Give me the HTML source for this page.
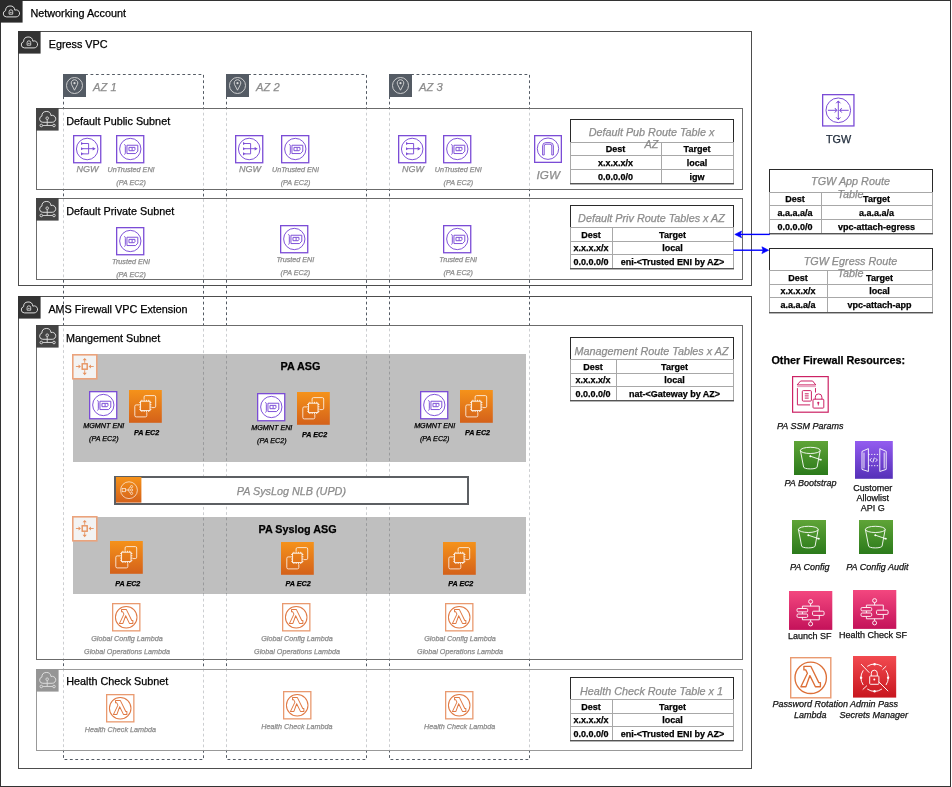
<!DOCTYPE html>
<html><head><meta charset="utf-8"><title>Networking Account</title>
<style>
html,body{margin:0;padding:0;background:#fff;}
body{width:952px;height:787px;position:relative;overflow:hidden;font-family:"Liberation Sans",Arial,Helvetica,sans-serif;}
.b{position:absolute;box-sizing:border-box;}
.t{position:absolute;white-space:nowrap;line-height:1;-webkit-text-stroke:0.25px currentColor;}
svg.b{overflow:visible;}
</style></head><body>
<div id="w" style="position:absolute;left:0;top:0;width:952px;height:787px;will-change:transform;">
<div class="b" style="left:0px;top:0px;width:951px;height:787px;border:1px solid #333;background:#fff;"></div>
<svg class="b" style="left:0px;top:0px;" width="22.6" height="22.6" viewBox="0 0 22.6 22.6"><rect width="22.6" height="22.6" fill="#2a2a2a"/><path transform="translate(3.3,5.8) scale(1.0)" d="M3.2,11.1 A3.2,3.2 0 0 1 2.31,4.83 A4.6,4.6 0 0 1 11.49,4.35 A3.5,3.5 0 1 1 12.8,11.1 Z" fill="none" stroke="#dcdcdc" stroke-width="1.00"/><path d="M9.1,14.2 V11.6 a1.8,1.8 0 0 1 3.6,0 V14.2 Z" fill="none" stroke="#dcdcdc" stroke-width="0.9"/><circle cx="10.9" cy="12.4" r="0.7" fill="#dcdcdc"/></svg>
<div class="t" style="left:30.50px;top:7px;font-size:10.8px;line-height:12px;color:#000;">Networking Account</div>
<div class="b" style="left:18px;top:31px;width:734px;height:255px;border:1px solid #4d4d4d;background:transparent;"></div>
<svg class="b" style="left:18px;top:31px;" width="22.6" height="22.6" viewBox="0 0 22.6 22.6"><rect width="22.6" height="22.6" fill="#333"/><path transform="translate(3.3,5.8) scale(1.0)" d="M3.2,11.1 A3.2,3.2 0 0 1 2.31,4.83 A4.6,4.6 0 0 1 11.49,4.35 A3.5,3.5 0 1 1 12.8,11.1 Z" fill="none" stroke="#dcdcdc" stroke-width="1.00"/><path d="M9.1,14.2 V11.6 a1.8,1.8 0 0 1 3.6,0 V14.2 Z" fill="none" stroke="#dcdcdc" stroke-width="0.9"/><circle cx="10.9" cy="12.4" r="0.7" fill="#dcdcdc"/></svg>
<div class="t" style="left:48.70px;top:38px;font-size:10.8px;line-height:12px;color:#000;">Egress VPC</div>
<div class="b" style="left:18px;top:296px;width:734px;height:473px;border:1px solid #4d4d4d;background:transparent;"></div>
<svg class="b" style="left:18px;top:296px;" width="22.6" height="22.6" viewBox="0 0 22.6 22.6"><rect width="22.6" height="22.6" fill="#333"/><path transform="translate(3.3,5.8) scale(1.0)" d="M3.2,11.1 A3.2,3.2 0 0 1 2.31,4.83 A4.6,4.6 0 0 1 11.49,4.35 A3.5,3.5 0 1 1 12.8,11.1 Z" fill="none" stroke="#dcdcdc" stroke-width="1.00"/><path d="M9.1,14.2 V11.6 a1.8,1.8 0 0 1 3.6,0 V14.2 Z" fill="none" stroke="#dcdcdc" stroke-width="0.9"/><circle cx="10.9" cy="12.4" r="0.7" fill="#dcdcdc"/></svg>
<div class="t" style="left:48.40px;top:303px;font-size:10.8px;line-height:12px;color:#000;">AMS Firewall VPC Extension</div>
<svg class="b" style="left:62px;top:73px;" width="143" height="688" viewBox="0 0 143 688"><rect x="1.5" y="1.5" width="140" height="685" fill="none" stroke="#545B64" stroke-width="1" stroke-dasharray="2.8 2.6"/></svg>
<svg class="b" style="left:225px;top:73px;" width="143" height="688" viewBox="0 0 143 688"><rect x="1.5" y="1.5" width="140" height="685" fill="none" stroke="#545B64" stroke-width="1" stroke-dasharray="2.8 2.6"/></svg>
<svg class="b" style="left:388px;top:73px;" width="143" height="688" viewBox="0 0 143 688"><rect x="1.5" y="1.5" width="140" height="685" fill="none" stroke="#545B64" stroke-width="1" stroke-dasharray="2.8 2.6"/></svg>
<div class="b" style="left:36px;top:108px;width:707px;height:82px;border:1px solid #6b6b6b;background:rgba(255,255,255,0.7);"></div>
<div class="b" style="left:36px;top:198px;width:707px;height:82px;border:1px solid #6b6b6b;background:rgba(255,255,255,0.7);"></div>
<div class="b" style="left:36px;top:325px;width:707px;height:335px;border:1px solid #6b6b6b;background:rgba(255,255,255,0.7);"></div>
<div class="b" style="left:36px;top:669px;width:707px;height:82px;border:1px solid #999;background:rgba(255,255,255,0.7);"></div>
<svg class="b" style="left:36px;top:108px;" width="22.6" height="22.6" viewBox="0 0 22.6 22.6"><rect width="22.6" height="22.6" fill="#444"/><path transform="translate(3.6,3.3) scale(0.99)" d="M3.2,11.1 A3.2,3.2 0 0 1 2.31,4.83 A4.6,4.6 0 0 1 11.49,4.35 A3.5,3.5 0 1 1 12.8,11.1 Z" fill="none" stroke="#dcdcdc" stroke-width="1.01"/><circle cx="11.2" cy="10.2" r="1.3" fill="#444" stroke="#dcdcdc" stroke-width="0.9"/><path d="M11.2,11.5 V17.5 M6.6,17.5 H16.7" stroke="#dcdcdc" stroke-width="0.9"/><circle cx="5.3" cy="17.5" r="1.3" fill="none" stroke="#dcdcdc" stroke-width="0.9"/><circle cx="18" cy="17.5" r="1.3" fill="none" stroke="#dcdcdc" stroke-width="0.9"/></svg>
<svg class="b" style="left:36px;top:198px;" width="22.6" height="22.6" viewBox="0 0 22.6 22.6"><rect width="22.6" height="22.6" fill="#444"/><path transform="translate(3.6,3.3) scale(0.99)" d="M3.2,11.1 A3.2,3.2 0 0 1 2.31,4.83 A4.6,4.6 0 0 1 11.49,4.35 A3.5,3.5 0 1 1 12.8,11.1 Z" fill="none" stroke="#dcdcdc" stroke-width="1.01"/><circle cx="11.2" cy="10.2" r="1.3" fill="#444" stroke="#dcdcdc" stroke-width="0.9"/><path d="M11.2,11.5 V17.5 M6.6,17.5 H16.7" stroke="#dcdcdc" stroke-width="0.9"/><circle cx="5.3" cy="17.5" r="1.3" fill="none" stroke="#dcdcdc" stroke-width="0.9"/><circle cx="18" cy="17.5" r="1.3" fill="none" stroke="#dcdcdc" stroke-width="0.9"/></svg>
<svg class="b" style="left:36px;top:325px;" width="22.6" height="22.6" viewBox="0 0 22.6 22.6"><rect width="22.6" height="22.6" fill="#444"/><path transform="translate(3.6,3.3) scale(0.99)" d="M3.2,11.1 A3.2,3.2 0 0 1 2.31,4.83 A4.6,4.6 0 0 1 11.49,4.35 A3.5,3.5 0 1 1 12.8,11.1 Z" fill="none" stroke="#dcdcdc" stroke-width="1.01"/><circle cx="11.2" cy="10.2" r="1.3" fill="#444" stroke="#dcdcdc" stroke-width="0.9"/><path d="M11.2,11.5 V17.5 M6.6,17.5 H16.7" stroke="#dcdcdc" stroke-width="0.9"/><circle cx="5.3" cy="17.5" r="1.3" fill="none" stroke="#dcdcdc" stroke-width="0.9"/><circle cx="18" cy="17.5" r="1.3" fill="none" stroke="#dcdcdc" stroke-width="0.9"/></svg>
<svg class="b" style="left:36.3px;top:669px;" width="22.6" height="22.6" viewBox="0 0 22.6 22.6"><rect width="22.6" height="22.6" fill="#959595"/><path transform="translate(3.6,3.3) scale(0.99)" d="M3.2,11.1 A3.2,3.2 0 0 1 2.31,4.83 A4.6,4.6 0 0 1 11.49,4.35 A3.5,3.5 0 1 1 12.8,11.1 Z" fill="none" stroke="#dcdcdc" stroke-width="1.01"/><circle cx="11.2" cy="10.2" r="1.3" fill="#959595" stroke="#dcdcdc" stroke-width="0.9"/><path d="M11.2,11.5 V17.5 M6.6,17.5 H16.7" stroke="#dcdcdc" stroke-width="0.9"/><circle cx="5.3" cy="17.5" r="1.3" fill="none" stroke="#dcdcdc" stroke-width="0.9"/><circle cx="18" cy="17.5" r="1.3" fill="none" stroke="#dcdcdc" stroke-width="0.9"/></svg>
<div class="t" style="left:66.30px;top:115px;font-size:10.8px;line-height:12px;color:#000;">Default Public Subnet</div>
<div class="t" style="left:66.30px;top:205px;font-size:10.8px;line-height:12px;color:#000;">Default Private Subnet</div>
<div class="t" style="left:66.00px;top:332px;font-size:10.8px;line-height:12px;color:#000;">Mangement Subnet</div>
<div class="t" style="left:66.30px;top:675px;font-size:10.8px;line-height:12px;color:#000;">Health Check Subnet</div>
<svg class="b" style="left:63px;top:74px;" width="23" height="23" viewBox="0 0 23 23"><rect width="23" height="23" fill="#545B64"/><circle cx="11.5" cy="11.5" r="8" fill="none" stroke="#d8d8d8" stroke-width="0.9"/><path d="M11.5,16.2 L8.6,10.6 a3.3,3.3 0 1 1 5.8,0 z" fill="none" stroke="#d8d8d8" stroke-width="0.9"/><circle cx="11.5" cy="9.2" r="1.1" fill="#d8d8d8"/></svg>
<div class="t" style="left:93.00px;top:81px;font-size:11.2px;line-height:12px;color:#8c8c8c;font-style:italic;">AZ 1</div>
<svg class="b" style="left:226px;top:74px;" width="23" height="23" viewBox="0 0 23 23"><rect width="23" height="23" fill="#545B64"/><circle cx="11.5" cy="11.5" r="8" fill="none" stroke="#d8d8d8" stroke-width="0.9"/><path d="M11.5,16.2 L8.6,10.6 a3.3,3.3 0 1 1 5.8,0 z" fill="none" stroke="#d8d8d8" stroke-width="0.9"/><circle cx="11.5" cy="9.2" r="1.1" fill="#d8d8d8"/></svg>
<div class="t" style="left:256.00px;top:81px;font-size:11.2px;line-height:12px;color:#8c8c8c;font-style:italic;">AZ 2</div>
<svg class="b" style="left:389px;top:74px;" width="23" height="23" viewBox="0 0 23 23"><rect width="23" height="23" fill="#545B64"/><circle cx="11.5" cy="11.5" r="8" fill="none" stroke="#d8d8d8" stroke-width="0.9"/><path d="M11.5,16.2 L8.6,10.6 a3.3,3.3 0 1 1 5.8,0 z" fill="none" stroke="#d8d8d8" stroke-width="0.9"/><circle cx="11.5" cy="9.2" r="1.1" fill="#d8d8d8"/></svg>
<div class="t" style="left:419.00px;top:81px;font-size:11.2px;line-height:12px;color:#8c8c8c;font-style:italic;">AZ 3</div>
<svg class="b" style="left:72.6px;top:134.8px;" width="28.4" height="28.4" viewBox="0 0 28.4 28.4"><rect x="0.65" y="0.65" width="27.10" height="27.10" fill="#fff" stroke="#7B4CD6" stroke-width="1.3"/><g transform="scale(1.0143)" fill="none" stroke="#7B4CD6" stroke-width="0.95"><circle cx="14" cy="13.8" r="10.6"/><path d="M9.6,8.4 h5.8 v10.2 h-5.8 M9.6,13.5 h10.6"/></g><g transform="scale(1.0143)" fill="#7B4CD6"><path d="M7.9,6.9 l2.6,1.5 l-2.6,1.5 z M7.9,12 l2.6,1.5 l-2.6,1.5 z M7.9,17.1 l2.6,1.5 l-2.6,1.5 z M19.4,11.8 l3,1.7 l-3,1.7 z"/></g></svg>
<svg class="b" style="left:116.1px;top:134.8px;" width="28.4" height="28.4" viewBox="0 0 28.4 28.4"><rect x="0.65" y="0.65" width="27.10" height="27.10" fill="#fff" stroke="#7B4CD6" stroke-width="1.3"/><g transform="scale(1.0143)" fill="none" stroke="#7B4CD6" stroke-width="0.95"><circle cx="14.1" cy="13.8" r="10.5"/><path d="M8.2,9.1 q1.2,0.6 1.0,2.2 v6.2 q0,1.2 -0.8,1.8"/><path d="M10.8,10.1 h10.7 v5.8 l-2.2,2.4 h-8.5 z"/><path d="M12.8,12.2 h3.1 v3.3 h-3.1 z M15.9,12.2 h2.8 v2.3 l-0.8,1 h-2"/></g></svg>
<div class="t" style="left:67.60px;top:164px;font-size:9px;line-height:10px;color:#8c8c8c;font-style:italic;width:40px;text-align:center;">NGW</div>
<div class="t" style="left:96.10px;top:165px;font-size:7.2px;line-height:9px;color:#8c8c8c;font-style:italic;width:70px;text-align:center;">UnTrusted ENI</div>
<div class="t" style="left:96.10px;top:178px;font-size:7.2px;line-height:9px;color:#8c8c8c;font-style:italic;width:70px;text-align:center;">(PA EC2)</div>
<svg class="b" style="left:235.1px;top:134.8px;" width="28.4" height="28.4" viewBox="0 0 28.4 28.4"><rect x="0.65" y="0.65" width="27.10" height="27.10" fill="#fff" stroke="#7B4CD6" stroke-width="1.3"/><g transform="scale(1.0143)" fill="none" stroke="#7B4CD6" stroke-width="0.95"><circle cx="14" cy="13.8" r="10.6"/><path d="M9.6,8.4 h5.8 v10.2 h-5.8 M9.6,13.5 h10.6"/></g><g transform="scale(1.0143)" fill="#7B4CD6"><path d="M7.9,6.9 l2.6,1.5 l-2.6,1.5 z M7.9,12 l2.6,1.5 l-2.6,1.5 z M7.9,17.1 l2.6,1.5 l-2.6,1.5 z M19.4,11.8 l3,1.7 l-3,1.7 z"/></g></svg>
<svg class="b" style="left:280.5px;top:134.8px;" width="28.4" height="28.4" viewBox="0 0 28.4 28.4"><rect x="0.65" y="0.65" width="27.10" height="27.10" fill="#fff" stroke="#7B4CD6" stroke-width="1.3"/><g transform="scale(1.0143)" fill="none" stroke="#7B4CD6" stroke-width="0.95"><circle cx="14.1" cy="13.8" r="10.5"/><path d="M8.2,9.1 q1.2,0.6 1.0,2.2 v6.2 q0,1.2 -0.8,1.8"/><path d="M10.8,10.1 h10.7 v5.8 l-2.2,2.4 h-8.5 z"/><path d="M12.8,12.2 h3.1 v3.3 h-3.1 z M15.9,12.2 h2.8 v2.3 l-0.8,1 h-2"/></g></svg>
<div class="t" style="left:230.10px;top:164px;font-size:9px;line-height:10px;color:#8c8c8c;font-style:italic;width:40px;text-align:center;">NGW</div>
<div class="t" style="left:260.50px;top:165px;font-size:7.2px;line-height:9px;color:#8c8c8c;font-style:italic;width:70px;text-align:center;">UnTrusted ENI</div>
<div class="t" style="left:260.50px;top:178px;font-size:7.2px;line-height:9px;color:#8c8c8c;font-style:italic;width:70px;text-align:center;">(PA EC2)</div>
<svg class="b" style="left:398.1px;top:134.8px;" width="28.4" height="28.4" viewBox="0 0 28.4 28.4"><rect x="0.65" y="0.65" width="27.10" height="27.10" fill="#fff" stroke="#7B4CD6" stroke-width="1.3"/><g transform="scale(1.0143)" fill="none" stroke="#7B4CD6" stroke-width="0.95"><circle cx="14" cy="13.8" r="10.6"/><path d="M9.6,8.4 h5.8 v10.2 h-5.8 M9.6,13.5 h10.6"/></g><g transform="scale(1.0143)" fill="#7B4CD6"><path d="M7.9,6.9 l2.6,1.5 l-2.6,1.5 z M7.9,12 l2.6,1.5 l-2.6,1.5 z M7.9,17.1 l2.6,1.5 l-2.6,1.5 z M19.4,11.8 l3,1.7 l-3,1.7 z"/></g></svg>
<svg class="b" style="left:443.3px;top:134.8px;" width="28.4" height="28.4" viewBox="0 0 28.4 28.4"><rect x="0.65" y="0.65" width="27.10" height="27.10" fill="#fff" stroke="#7B4CD6" stroke-width="1.3"/><g transform="scale(1.0143)" fill="none" stroke="#7B4CD6" stroke-width="0.95"><circle cx="14.1" cy="13.8" r="10.5"/><path d="M8.2,9.1 q1.2,0.6 1.0,2.2 v6.2 q0,1.2 -0.8,1.8"/><path d="M10.8,10.1 h10.7 v5.8 l-2.2,2.4 h-8.5 z"/><path d="M12.8,12.2 h3.1 v3.3 h-3.1 z M15.9,12.2 h2.8 v2.3 l-0.8,1 h-2"/></g></svg>
<div class="t" style="left:393.10px;top:164px;font-size:9px;line-height:10px;color:#8c8c8c;font-style:italic;width:40px;text-align:center;">NGW</div>
<div class="t" style="left:423.30px;top:165px;font-size:7.2px;line-height:9px;color:#8c8c8c;font-style:italic;width:70px;text-align:center;">UnTrusted ENI</div>
<div class="t" style="left:423.30px;top:178px;font-size:7.2px;line-height:9px;color:#8c8c8c;font-style:italic;width:70px;text-align:center;">(PA EC2)</div>
<svg class="b" style="left:534.2px;top:134.8px;" width="28" height="28" viewBox="0 0 28 28"><rect x="0.65" y="0.65" width="26.70" height="26.70" fill="#fff" stroke="#7B4CD6" stroke-width="1.3"/><g fill="none" stroke="#7B4CD6" stroke-width="0.95"><circle cx="14" cy="13.7" r="10.7"/><path d="M8.6,20 v-9 a3.4,3.4 0 0 1 3.4,-3.4 h4 a3.4,3.4 0 0 1 3.4,3.4 v9 h-1.6 v-9 a1.8,1.8 0 0 0 -1.8,-1.8 h-4 a1.8,1.8 0 0 0 -1.8,1.8 v9 z"/></g></svg>
<div class="t" style="left:528.30px;top:168px;font-size:11.7px;line-height:13px;color:#8c8c8c;font-style:italic;width:40px;text-align:center;">IGW</div>
<svg class="b" style="left:116.0px;top:227.1px;" width="28.4" height="28.4" viewBox="0 0 28.4 28.4"><rect x="0.65" y="0.65" width="27.10" height="27.10" fill="#fff" stroke="#7B4CD6" stroke-width="1.3"/><g transform="scale(1.0143)" fill="none" stroke="#7B4CD6" stroke-width="0.95"><circle cx="14.1" cy="13.8" r="10.5"/><path d="M8.2,9.1 q1.2,0.6 1.0,2.2 v6.2 q0,1.2 -0.8,1.8"/><path d="M10.8,10.1 h10.7 v5.8 l-2.2,2.4 h-8.5 z"/><path d="M12.8,12.2 h3.1 v3.3 h-3.1 z M15.9,12.2 h2.8 v2.3 l-0.8,1 h-2"/></g></svg>
<div class="t" style="left:96.00px;top:257px;font-size:7.2px;line-height:9px;color:#8c8c8c;font-style:italic;width:70px;text-align:center;">Trusted ENI</div>
<div class="t" style="left:96.00px;top:270px;font-size:7.2px;line-height:9px;color:#8c8c8c;font-style:italic;width:70px;text-align:center;">(PA EC2)</div>
<svg class="b" style="left:280.3px;top:225.2px;" width="28.4" height="28.4" viewBox="0 0 28.4 28.4"><rect x="0.65" y="0.65" width="27.10" height="27.10" fill="#fff" stroke="#7B4CD6" stroke-width="1.3"/><g transform="scale(1.0143)" fill="none" stroke="#7B4CD6" stroke-width="0.95"><circle cx="14.1" cy="13.8" r="10.5"/><path d="M8.2,9.1 q1.2,0.6 1.0,2.2 v6.2 q0,1.2 -0.8,1.8"/><path d="M10.8,10.1 h10.7 v5.8 l-2.2,2.4 h-8.5 z"/><path d="M12.8,12.2 h3.1 v3.3 h-3.1 z M15.9,12.2 h2.8 v2.3 l-0.8,1 h-2"/></g></svg>
<div class="t" style="left:260.30px;top:255px;font-size:7.2px;line-height:9px;color:#8c8c8c;font-style:italic;width:70px;text-align:center;">Trusted ENI</div>
<div class="t" style="left:260.30px;top:268px;font-size:7.2px;line-height:9px;color:#8c8c8c;font-style:italic;width:70px;text-align:center;">(PA EC2)</div>
<svg class="b" style="left:443.2px;top:225.2px;" width="28.4" height="28.4" viewBox="0 0 28.4 28.4"><rect x="0.65" y="0.65" width="27.10" height="27.10" fill="#fff" stroke="#7B4CD6" stroke-width="1.3"/><g transform="scale(1.0143)" fill="none" stroke="#7B4CD6" stroke-width="0.95"><circle cx="14.1" cy="13.8" r="10.5"/><path d="M8.2,9.1 q1.2,0.6 1.0,2.2 v6.2 q0,1.2 -0.8,1.8"/><path d="M10.8,10.1 h10.7 v5.8 l-2.2,2.4 h-8.5 z"/><path d="M12.8,12.2 h3.1 v3.3 h-3.1 z M15.9,12.2 h2.8 v2.3 l-0.8,1 h-2"/></g></svg>
<div class="t" style="left:423.20px;top:255px;font-size:7.2px;line-height:9px;color:#8c8c8c;font-style:italic;width:70px;text-align:center;">Trusted ENI</div>
<div class="t" style="left:423.20px;top:268px;font-size:7.2px;line-height:9px;color:#8c8c8c;font-style:italic;width:70px;text-align:center;">(PA EC2)</div>
<div class="b" style="left:73px;top:354px;width:453px;height:108px;background:rgba(0,0,0,0.25);"></div>
<svg class="b" style="left:72.3px;top:353.9px;" width="25.6" height="25.6" viewBox="0 0 25.6 25.6"><rect x="0.8" y="0.8" width="24.00" height="24.00" fill="#f3f3f3" stroke="#EBA37C" stroke-width="1.6"/><rect x="10.2" y="9.8" width="5.0" height="5.4" fill="none" stroke="#E6925F" stroke-width="1.4"/><g stroke="#E6925F" stroke-width="0.9" fill="none"><path d="M12.7,8.8 V5.6 M12.7,16.2 V19.4 M3.9,12.5 H7.2 M21.7,12.5 H18.3"/></g><g fill="#E6925F"><path d="M10.6,6.3 L12.7,3.9 L14.8,6.3 Z M10.6,18.8 L12.7,21.2 L14.8,18.8 Z M6.6,10.4 L8.9,12.5 L6.6,14.6 Z M18.9,10.4 L16.6,12.5 L18.9,14.6 Z"/></g></svg>
<div class="t" style="left:260.40px;top:360px;font-size:10.8px;line-height:12px;color:#000;font-weight:bold;width:80px;text-align:center;">PA ASG</div>
<svg class="b" style="left:89.3px;top:391.3px;" width="28.4" height="28.4" viewBox="0 0 28.4 28.4"><rect x="0.65" y="0.65" width="27.10" height="27.10" fill="#fff" stroke="#7B4CD6" stroke-width="1.3"/><g transform="scale(1.0143)" fill="none" stroke="#7B4CD6" stroke-width="0.95"><circle cx="14.1" cy="13.8" r="10.5"/><path d="M8.2,9.1 q1.2,0.6 1.0,2.2 v6.2 q0,1.2 -0.8,1.8"/><path d="M10.8,10.1 h10.7 v5.8 l-2.2,2.4 h-8.5 z"/><path d="M12.8,12.2 h3.1 v3.3 h-3.1 z M15.9,12.2 h2.8 v2.3 l-0.8,1 h-2"/></g></svg>
<svg class="b" style="left:129.1px;top:389.9px;" width="32.8" height="32.8" viewBox="0 0 32.8 32.8"><defs><linearGradient id="g1291_3899" gradientUnits="userSpaceOnUse" x1="0" y1="32.8" x2="0" y2="0"><stop offset="0" stop-color="#D4611A"/><stop offset="1" stop-color="#F5921A"/></linearGradient></defs><rect width="32.8" height="32.8" fill="url(#g1291_3899)"/><g fill="none" stroke="#fff" stroke-width="0.85" opacity="0.9"><rect x="15.1" y="5.6" width="11.6" height="12" rx="1.4"/><rect x="5.8" y="14.9" width="12" height="12" rx="1.4"/></g><rect x="10.0" y="9.6" width="12.600000000000001" height="12.600000000000001" fill="url(#g1291_3899)"/><g fill="none" stroke="#fff" stroke-width="0.9" opacity="0.95"><rect x="11.6" y="11.2" width="9.4" height="9.4"/><path d="M12.90,9.80 v1.4 M12.90,20.60 v1.4 M10.20,12.50 h1.4 M21.00,12.50 h1.4 M15.17,9.80 v1.4 M15.17,20.60 v1.4 M10.20,14.77 h1.4 M21.00,14.77 h1.4 M17.44,9.80 v1.4 M17.44,20.60 v1.4 M10.20,17.04 h1.4 M21.00,17.04 h1.4 M19.71,9.80 v1.4 M19.71,20.60 v1.4 M10.20,19.31 h1.4 M21.00,19.31 h1.4"/></g></svg>
<div class="t" style="left:68.80px;top:421px;font-size:7.2px;line-height:9px;color:#000;font-style:italic;width:70px;text-align:center;">MGMNT ENI</div>
<div class="t" style="left:68.80px;top:434px;font-size:7.2px;line-height:9px;color:#000;font-style:italic;width:70px;text-align:center;">(PA EC2)</div>
<div class="t" style="left:121.70px;top:428px;font-size:7.2px;line-height:9px;color:#000;font-style:italic;font-weight:bold;width:50px;text-align:center;">PA EC2</div>
<svg class="b" style="left:257.3px;top:393.2px;" width="28.4" height="28.4" viewBox="0 0 28.4 28.4"><rect x="0.65" y="0.65" width="27.10" height="27.10" fill="#fff" stroke="#7B4CD6" stroke-width="1.3"/><g transform="scale(1.0143)" fill="none" stroke="#7B4CD6" stroke-width="0.95"><circle cx="14.1" cy="13.8" r="10.5"/><path d="M8.2,9.1 q1.2,0.6 1.0,2.2 v6.2 q0,1.2 -0.8,1.8"/><path d="M10.8,10.1 h10.7 v5.8 l-2.2,2.4 h-8.5 z"/><path d="M12.8,12.2 h3.1 v3.3 h-3.1 z M15.9,12.2 h2.8 v2.3 l-0.8,1 h-2"/></g></svg>
<svg class="b" style="left:297.0px;top:391.8px;" width="32.8" height="32.8" viewBox="0 0 32.8 32.8"><defs><linearGradient id="g2970_3918" gradientUnits="userSpaceOnUse" x1="0" y1="32.8" x2="0" y2="0"><stop offset="0" stop-color="#D4611A"/><stop offset="1" stop-color="#F5921A"/></linearGradient></defs><rect width="32.8" height="32.8" fill="url(#g2970_3918)"/><g fill="none" stroke="#fff" stroke-width="0.85" opacity="0.9"><rect x="15.1" y="5.6" width="11.6" height="12" rx="1.4"/><rect x="5.8" y="14.9" width="12" height="12" rx="1.4"/></g><rect x="10.0" y="9.6" width="12.600000000000001" height="12.600000000000001" fill="url(#g2970_3918)"/><g fill="none" stroke="#fff" stroke-width="0.9" opacity="0.95"><rect x="11.6" y="11.2" width="9.4" height="9.4"/><path d="M12.90,9.80 v1.4 M12.90,20.60 v1.4 M10.20,12.50 h1.4 M21.00,12.50 h1.4 M15.17,9.80 v1.4 M15.17,20.60 v1.4 M10.20,14.77 h1.4 M21.00,14.77 h1.4 M17.44,9.80 v1.4 M17.44,20.60 v1.4 M10.20,17.04 h1.4 M21.00,17.04 h1.4 M19.71,9.80 v1.4 M19.71,20.60 v1.4 M10.20,19.31 h1.4 M21.00,19.31 h1.4"/></g></svg>
<div class="t" style="left:236.80px;top:423px;font-size:7.2px;line-height:9px;color:#000;font-style:italic;width:70px;text-align:center;">MGMNT ENI</div>
<div class="t" style="left:236.80px;top:436px;font-size:7.2px;line-height:9px;color:#000;font-style:italic;width:70px;text-align:center;">(PA EC2)</div>
<div class="t" style="left:289.60px;top:430px;font-size:7.2px;line-height:9px;color:#000;font-style:italic;font-weight:bold;width:50px;text-align:center;">PA EC2</div>
<svg class="b" style="left:420.2px;top:391.3px;" width="28.4" height="28.4" viewBox="0 0 28.4 28.4"><rect x="0.65" y="0.65" width="27.10" height="27.10" fill="#fff" stroke="#7B4CD6" stroke-width="1.3"/><g transform="scale(1.0143)" fill="none" stroke="#7B4CD6" stroke-width="0.95"><circle cx="14.1" cy="13.8" r="10.5"/><path d="M8.2,9.1 q1.2,0.6 1.0,2.2 v6.2 q0,1.2 -0.8,1.8"/><path d="M10.8,10.1 h10.7 v5.8 l-2.2,2.4 h-8.5 z"/><path d="M12.8,12.2 h3.1 v3.3 h-3.1 z M15.9,12.2 h2.8 v2.3 l-0.8,1 h-2"/></g></svg>
<svg class="b" style="left:459.9px;top:389.9px;" width="32.8" height="32.8" viewBox="0 0 32.8 32.8"><defs><linearGradient id="g4599_3899" gradientUnits="userSpaceOnUse" x1="0" y1="32.8" x2="0" y2="0"><stop offset="0" stop-color="#D4611A"/><stop offset="1" stop-color="#F5921A"/></linearGradient></defs><rect width="32.8" height="32.8" fill="url(#g4599_3899)"/><g fill="none" stroke="#fff" stroke-width="0.85" opacity="0.9"><rect x="15.1" y="5.6" width="11.6" height="12" rx="1.4"/><rect x="5.8" y="14.9" width="12" height="12" rx="1.4"/></g><rect x="10.0" y="9.6" width="12.600000000000001" height="12.600000000000001" fill="url(#g4599_3899)"/><g fill="none" stroke="#fff" stroke-width="0.9" opacity="0.95"><rect x="11.6" y="11.2" width="9.4" height="9.4"/><path d="M12.90,9.80 v1.4 M12.90,20.60 v1.4 M10.20,12.50 h1.4 M21.00,12.50 h1.4 M15.17,9.80 v1.4 M15.17,20.60 v1.4 M10.20,14.77 h1.4 M21.00,14.77 h1.4 M17.44,9.80 v1.4 M17.44,20.60 v1.4 M10.20,17.04 h1.4 M21.00,17.04 h1.4 M19.71,9.80 v1.4 M19.71,20.60 v1.4 M10.20,19.31 h1.4 M21.00,19.31 h1.4"/></g></svg>
<div class="t" style="left:399.70px;top:421px;font-size:7.2px;line-height:9px;color:#000;font-style:italic;width:70px;text-align:center;">MGMNT ENI</div>
<div class="t" style="left:399.70px;top:434px;font-size:7.2px;line-height:9px;color:#000;font-style:italic;width:70px;text-align:center;">(PA EC2)</div>
<div class="t" style="left:452.50px;top:428px;font-size:7.2px;line-height:9px;color:#000;font-style:italic;font-weight:bold;width:50px;text-align:center;">PA EC2</div>
<div class="b" style="left:114px;top:476px;width:355px;height:29px;border:2px solid #5c5f63;background:#fff;"></div>
<svg class="b" style="left:115.6px;top:477.1px;" width="25.4" height="25.6" viewBox="0 0 25.4 25.6"><defs><linearGradient id="n115_477" x1="0" y1="1" x2="0" y2="0"><stop offset="0" stop-color="#D4611A"/><stop offset="1" stop-color="#F5921A"/></linearGradient></defs><rect width="25.4" height="25.6" fill="url(#n115_477)"/><g fill="none" stroke="#fff" stroke-width="0.75" opacity="0.85"><circle cx="13" cy="13.2" r="8.4"/><rect x="6.1" y="11.4" width="3.3" height="3.3"/><path d="M9.4,13 h2.5 M11.9,13 l2.4,-3.2 M11.9,13 h2.4 M11.9,13 l2.4,3.2"/><circle cx="15.6" cy="9.6" r="1.1"/><circle cx="15.6" cy="13" r="1.1"/><circle cx="15.6" cy="16.4" r="1.1"/></g></svg>
<div class="t" style="left:236.80px;top:485px;font-size:10.8px;line-height:12px;color:#8c8c8c;font-style:italic;">PA SysLog NLB (UPD)</div>
<div class="b" style="left:73px;top:517px;width:453px;height:77px;background:rgba(0,0,0,0.25);"></div>
<svg class="b" style="left:72.3px;top:516.4px;" width="25.6" height="25.6" viewBox="0 0 25.6 25.6"><rect x="0.8" y="0.8" width="24.00" height="24.00" fill="#f3f3f3" stroke="#EBA37C" stroke-width="1.6"/><rect x="10.2" y="9.8" width="5.0" height="5.4" fill="none" stroke="#E6925F" stroke-width="1.4"/><g stroke="#E6925F" stroke-width="0.9" fill="none"><path d="M12.7,8.8 V5.6 M12.7,16.2 V19.4 M3.9,12.5 H7.2 M21.7,12.5 H18.3"/></g><g fill="#E6925F"><path d="M10.6,6.3 L12.7,3.9 L14.8,6.3 Z M10.6,18.8 L12.7,21.2 L14.8,18.8 Z M6.6,10.4 L8.9,12.5 L6.6,14.6 Z M18.9,10.4 L16.6,12.5 L18.9,14.6 Z"/></g></svg>
<div class="t" style="left:237.60px;top:523px;font-size:10.8px;line-height:12px;color:#000;font-weight:bold;width:120px;text-align:center;">PA Syslog ASG</div>
<svg class="b" style="left:110.2px;top:540.8px;" width="32.8" height="32.8" viewBox="0 0 32.8 32.8"><defs><linearGradient id="g1102_5408" gradientUnits="userSpaceOnUse" x1="0" y1="32.8" x2="0" y2="0"><stop offset="0" stop-color="#D4611A"/><stop offset="1" stop-color="#F5921A"/></linearGradient></defs><rect width="32.8" height="32.8" fill="url(#g1102_5408)"/><g fill="none" stroke="#fff" stroke-width="0.85" opacity="0.9"><rect x="15.1" y="5.6" width="11.6" height="12" rx="1.4"/><rect x="5.8" y="14.9" width="12" height="12" rx="1.4"/></g><rect x="10.0" y="9.6" width="12.600000000000001" height="12.600000000000001" fill="url(#g1102_5408)"/><g fill="none" stroke="#fff" stroke-width="0.9" opacity="0.95"><rect x="11.6" y="11.2" width="9.4" height="9.4"/><path d="M12.90,9.80 v1.4 M12.90,20.60 v1.4 M10.20,12.50 h1.4 M21.00,12.50 h1.4 M15.17,9.80 v1.4 M15.17,20.60 v1.4 M10.20,14.77 h1.4 M21.00,14.77 h1.4 M17.44,9.80 v1.4 M17.44,20.60 v1.4 M10.20,17.04 h1.4 M21.00,17.04 h1.4 M19.71,9.80 v1.4 M19.71,20.60 v1.4 M10.20,19.31 h1.4 M21.00,19.31 h1.4"/></g></svg>
<div class="t" style="left:102.80px;top:579px;font-size:7.2px;line-height:9px;color:#000;font-style:italic;font-weight:bold;width:50px;text-align:center;">PA EC2</div>
<svg class="b" style="left:280.5px;top:541.7px;" width="32.8" height="32.8" viewBox="0 0 32.8 32.8"><defs><linearGradient id="g2805_5417" gradientUnits="userSpaceOnUse" x1="0" y1="32.8" x2="0" y2="0"><stop offset="0" stop-color="#D4611A"/><stop offset="1" stop-color="#F5921A"/></linearGradient></defs><rect width="32.8" height="32.8" fill="url(#g2805_5417)"/><g fill="none" stroke="#fff" stroke-width="0.85" opacity="0.9"><rect x="15.1" y="5.6" width="11.6" height="12" rx="1.4"/><rect x="5.8" y="14.9" width="12" height="12" rx="1.4"/></g><rect x="10.0" y="9.6" width="12.600000000000001" height="12.600000000000001" fill="url(#g2805_5417)"/><g fill="none" stroke="#fff" stroke-width="0.9" opacity="0.95"><rect x="11.6" y="11.2" width="9.4" height="9.4"/><path d="M12.90,9.80 v1.4 M12.90,20.60 v1.4 M10.20,12.50 h1.4 M21.00,12.50 h1.4 M15.17,9.80 v1.4 M15.17,20.60 v1.4 M10.20,14.77 h1.4 M21.00,14.77 h1.4 M17.44,9.80 v1.4 M17.44,20.60 v1.4 M10.20,17.04 h1.4 M21.00,17.04 h1.4 M19.71,9.80 v1.4 M19.71,20.60 v1.4 M10.20,19.31 h1.4 M21.00,19.31 h1.4"/></g></svg>
<div class="t" style="left:273.10px;top:579px;font-size:7.2px;line-height:9px;color:#000;font-style:italic;font-weight:bold;width:50px;text-align:center;">PA EC2</div>
<svg class="b" style="left:443.2px;top:541.7px;" width="32.8" height="32.8" viewBox="0 0 32.8 32.8"><defs><linearGradient id="g4432_5417" gradientUnits="userSpaceOnUse" x1="0" y1="32.8" x2="0" y2="0"><stop offset="0" stop-color="#D4611A"/><stop offset="1" stop-color="#F5921A"/></linearGradient></defs><rect width="32.8" height="32.8" fill="url(#g4432_5417)"/><g fill="none" stroke="#fff" stroke-width="0.85" opacity="0.9"><rect x="15.1" y="5.6" width="11.6" height="12" rx="1.4"/><rect x="5.8" y="14.9" width="12" height="12" rx="1.4"/></g><rect x="10.0" y="9.6" width="12.600000000000001" height="12.600000000000001" fill="url(#g4432_5417)"/><g fill="none" stroke="#fff" stroke-width="0.9" opacity="0.95"><rect x="11.6" y="11.2" width="9.4" height="9.4"/><path d="M12.90,9.80 v1.4 M12.90,20.60 v1.4 M10.20,12.50 h1.4 M21.00,12.50 h1.4 M15.17,9.80 v1.4 M15.17,20.60 v1.4 M10.20,14.77 h1.4 M21.00,14.77 h1.4 M17.44,9.80 v1.4 M17.44,20.60 v1.4 M10.20,17.04 h1.4 M21.00,17.04 h1.4 M19.71,9.80 v1.4 M19.71,20.60 v1.4 M10.20,19.31 h1.4 M21.00,19.31 h1.4"/></g></svg>
<div class="t" style="left:435.80px;top:579px;font-size:7.2px;line-height:9px;color:#000;font-style:italic;font-weight:bold;width:50px;text-align:center;">PA EC2</div>
<svg class="b" style="left:112.4px;top:603.4px;" width="28.5" height="28.5" viewBox="0 0 28.5 28.5"><rect x="0.65" y="0.65" width="27.20" height="27.20" fill="#fff" stroke="#E99A70" stroke-width="1.3"/><g transform="scale(0.6867)" fill="none" stroke="#E07A45" stroke-width="1.46" stroke-linejoin="round"><circle cx="20.7" cy="20.8" r="15.7"/><path d="M13.9,9.3 H20.8 L28.8,25.6 H30.4 V29.7 H25.4 L19.9,18.6 L15.9,29.7 H10.9 L17.4,16.2 L15.7,12.9 H13.9 Z"/></g></svg>
<div class="t" style="left:72.00px;top:634px;font-size:7.2px;line-height:9px;color:#8c8c8c;font-style:italic;width:110px;text-align:center;">Global Config Lambda</div>
<div class="t" style="left:72.00px;top:647px;font-size:7.2px;line-height:9px;color:#8c8c8c;font-style:italic;width:110px;text-align:center;">Global Operations Lambda</div>
<svg class="b" style="left:282.4px;top:603.4px;" width="28.5" height="28.5" viewBox="0 0 28.5 28.5"><rect x="0.65" y="0.65" width="27.20" height="27.20" fill="#fff" stroke="#E99A70" stroke-width="1.3"/><g transform="scale(0.6867)" fill="none" stroke="#E07A45" stroke-width="1.46" stroke-linejoin="round"><circle cx="20.7" cy="20.8" r="15.7"/><path d="M13.9,9.3 H20.8 L28.8,25.6 H30.4 V29.7 H25.4 L19.9,18.6 L15.9,29.7 H10.9 L17.4,16.2 L15.7,12.9 H13.9 Z"/></g></svg>
<div class="t" style="left:242.00px;top:634px;font-size:7.2px;line-height:9px;color:#8c8c8c;font-style:italic;width:110px;text-align:center;">Global Config Lambda</div>
<div class="t" style="left:242.00px;top:647px;font-size:7.2px;line-height:9px;color:#8c8c8c;font-style:italic;width:110px;text-align:center;">Global Operations Lambda</div>
<svg class="b" style="left:445.4px;top:603.4px;" width="28.5" height="28.5" viewBox="0 0 28.5 28.5"><rect x="0.65" y="0.65" width="27.20" height="27.20" fill="#fff" stroke="#E99A70" stroke-width="1.3"/><g transform="scale(0.6867)" fill="none" stroke="#E07A45" stroke-width="1.46" stroke-linejoin="round"><circle cx="20.7" cy="20.8" r="15.7"/><path d="M13.9,9.3 H20.8 L28.8,25.6 H30.4 V29.7 H25.4 L19.9,18.6 L15.9,29.7 H10.9 L17.4,16.2 L15.7,12.9 H13.9 Z"/></g></svg>
<div class="t" style="left:405.00px;top:634px;font-size:7.2px;line-height:9px;color:#8c8c8c;font-style:italic;width:110px;text-align:center;">Global Config Lambda</div>
<div class="t" style="left:405.00px;top:647px;font-size:7.2px;line-height:9px;color:#8c8c8c;font-style:italic;width:110px;text-align:center;">Global Operations Lambda</div>
<svg class="b" style="left:106.2px;top:694.1px;" width="28.5" height="28.5" viewBox="0 0 28.5 28.5"><rect x="0.65" y="0.65" width="27.20" height="27.20" fill="#fff" stroke="#E99A70" stroke-width="1.3"/><g transform="scale(0.6867)" fill="none" stroke="#E07A45" stroke-width="1.46" stroke-linejoin="round"><circle cx="20.7" cy="20.8" r="15.7"/><path d="M13.9,9.3 H20.8 L28.8,25.6 H30.4 V29.7 H25.4 L19.9,18.6 L15.9,29.7 H10.9 L17.4,16.2 L15.7,12.9 H13.9 Z"/></g></svg>
<div class="t" style="left:65.40px;top:725px;font-size:7.2px;line-height:9px;color:#8c8c8c;font-style:italic;width:110px;text-align:center;">Health Check Lambda</div>
<svg class="b" style="left:282.7px;top:691.1px;" width="28.5" height="28.5" viewBox="0 0 28.5 28.5"><rect x="0.65" y="0.65" width="27.20" height="27.20" fill="#fff" stroke="#E99A70" stroke-width="1.3"/><g transform="scale(0.6867)" fill="none" stroke="#E07A45" stroke-width="1.46" stroke-linejoin="round"><circle cx="20.7" cy="20.8" r="15.7"/><path d="M13.9,9.3 H20.8 L28.8,25.6 H30.4 V29.7 H25.4 L19.9,18.6 L15.9,29.7 H10.9 L17.4,16.2 L15.7,12.9 H13.9 Z"/></g></svg>
<div class="t" style="left:241.90px;top:722px;font-size:7.2px;line-height:9px;color:#8c8c8c;font-style:italic;width:110px;text-align:center;">Health Check Lambda</div>
<svg class="b" style="left:445.4px;top:691.1px;" width="28.5" height="28.5" viewBox="0 0 28.5 28.5"><rect x="0.65" y="0.65" width="27.20" height="27.20" fill="#fff" stroke="#E99A70" stroke-width="1.3"/><g transform="scale(0.6867)" fill="none" stroke="#E07A45" stroke-width="1.46" stroke-linejoin="round"><circle cx="20.7" cy="20.8" r="15.7"/><path d="M13.9,9.3 H20.8 L28.8,25.6 H30.4 V29.7 H25.4 L19.9,18.6 L15.9,29.7 H10.9 L17.4,16.2 L15.7,12.9 H13.9 Z"/></g></svg>
<div class="t" style="left:404.60px;top:722px;font-size:7.2px;line-height:9px;color:#8c8c8c;font-style:italic;width:110px;text-align:center;">Health Check Lambda</div>
<div class="b" style="left:570px;top:119px;width:164px;height:65px;background:#fff"></div>
<div class="b" style="left:570px;top:119px;width:164px;height:24px;border:1px solid #2a2a2a;border-bottom:1px solid #999;"></div>
<div class="b" style="left:570px;top:142px;width:164px;height:14px;border:1px solid #a8a8a8;"></div>
<div class="b" style="left:570px;top:155px;width:164px;height:15px;border:1px solid #a8a8a8;"></div>
<div class="b" style="left:570px;top:169px;width:164px;height:15px;border:1px solid #a8a8a8;"></div>
<div class="b" style="left:570px;top:183px;width:164px;height:1px;background:#555;"></div>
<div class="b" style="left:570px;top:184px;width:164px;height:1px;background:#b4b4b4;"></div>
<div class="b" style="left:661px;top:142px;width:1px;height:41px;background:#a8a8a8;"></div>
<div class="t" style="left:541.50px;top:126px;font-size:10.8px;line-height:12px;color:#8c8c8c;font-style:italic;width:220px;text-align:center;">Default Pub Route Table x</div>
<div class="t" style="left:541.50px;top:138px;font-size:10.8px;line-height:12px;color:#8c8c8c;font-style:italic;width:220px;text-align:center;">AZ</div>
<div class="t" style="left:555.50px;top:144px;font-size:9px;line-height:10px;color:#000;font-weight:bold;width:120px;text-align:center;">Dest</div>
<div class="t" style="left:617.00px;top:144px;font-size:9px;line-height:10px;color:#000;font-weight:bold;width:160px;text-align:center;">Target</div>
<div class="t" style="left:555.50px;top:158px;font-size:9px;line-height:10px;color:#000;font-weight:bold;width:120px;text-align:center;">x.x.x.x/x</div>
<div class="t" style="left:617.00px;top:158px;font-size:9px;line-height:10px;color:#000;font-weight:bold;width:160px;text-align:center;">local</div>
<div class="t" style="left:555.50px;top:172px;font-size:9px;line-height:10px;color:#000;font-weight:bold;width:120px;text-align:center;">0.0.0.0/0</div>
<div class="t" style="left:617.00px;top:172px;font-size:9px;line-height:10px;color:#000;font-weight:bold;width:160px;text-align:center;">igw</div>
<div class="b" style="left:570px;top:205px;width:164px;height:64px;background:#fff"></div>
<div class="b" style="left:570px;top:205px;width:164px;height:23px;border:1px solid #2a2a2a;border-bottom:1px solid #999;"></div>
<div class="b" style="left:570px;top:227px;width:164px;height:15px;border:1px solid #a8a8a8;"></div>
<div class="b" style="left:570px;top:241px;width:164px;height:14px;border:1px solid #a8a8a8;"></div>
<div class="b" style="left:570px;top:254px;width:164px;height:15px;border:1px solid #a8a8a8;"></div>
<div class="b" style="left:570px;top:268px;width:164px;height:1px;background:#555;"></div>
<div class="b" style="left:570px;top:269px;width:164px;height:1px;background:#b4b4b4;"></div>
<div class="b" style="left:612px;top:227px;width:1px;height:41px;background:#a8a8a8;"></div>
<div class="t" style="left:541.50px;top:212px;font-size:10.8px;line-height:12px;color:#8c8c8c;font-style:italic;width:220px;text-align:center;">Default Priv Route Tables x AZ</div>
<div class="t" style="left:531.00px;top:230px;font-size:9px;line-height:10px;color:#000;font-weight:bold;width:120px;text-align:center;">Dest</div>
<div class="t" style="left:592.50px;top:230px;font-size:9px;line-height:10px;color:#000;font-weight:bold;width:160px;text-align:center;">Target</div>
<div class="t" style="left:531.00px;top:243px;font-size:9px;line-height:10px;color:#000;font-weight:bold;width:120px;text-align:center;">x.x.x.x/x</div>
<div class="t" style="left:592.50px;top:243px;font-size:9px;line-height:10px;color:#000;font-weight:bold;width:160px;text-align:center;">local</div>
<div class="t" style="left:531.00px;top:257px;font-size:9px;line-height:10px;color:#000;font-weight:bold;width:120px;text-align:center;">0.0.0.0/0</div>
<div class="t" style="left:592.50px;top:257px;font-size:9px;line-height:10px;color:#000;font-weight:bold;width:160px;text-align:center;">eni-&lt;Trusted ENI by AZ&gt;</div>
<div class="b" style="left:570px;top:337px;width:164px;height:64px;background:#fff"></div>
<div class="b" style="left:570px;top:337px;width:164px;height:23px;border:1px solid #2a2a2a;border-bottom:1px solid #999;"></div>
<div class="b" style="left:570px;top:359px;width:164px;height:15px;border:1px solid #a8a8a8;"></div>
<div class="b" style="left:570px;top:373px;width:164px;height:14px;border:1px solid #a8a8a8;"></div>
<div class="b" style="left:570px;top:386px;width:164px;height:15px;border:1px solid #a8a8a8;"></div>
<div class="b" style="left:570px;top:400px;width:164px;height:1px;background:#555;"></div>
<div class="b" style="left:570px;top:401px;width:164px;height:1px;background:#b4b4b4;"></div>
<div class="b" style="left:616px;top:359px;width:1px;height:41px;background:#a8a8a8;"></div>
<div class="t" style="left:541.50px;top:345px;font-size:10.8px;line-height:12px;color:#8c8c8c;font-style:italic;width:220px;text-align:center;">Management Route Tables x AZ</div>
<div class="t" style="left:533.00px;top:362px;font-size:9px;line-height:10px;color:#000;font-weight:bold;width:120px;text-align:center;">Dest</div>
<div class="t" style="left:594.50px;top:362px;font-size:9px;line-height:10px;color:#000;font-weight:bold;width:160px;text-align:center;">Target</div>
<div class="t" style="left:533.00px;top:375px;font-size:9px;line-height:10px;color:#000;font-weight:bold;width:120px;text-align:center;">x.x.x.x/x</div>
<div class="t" style="left:594.50px;top:375px;font-size:9px;line-height:10px;color:#000;font-weight:bold;width:160px;text-align:center;">local</div>
<div class="t" style="left:533.00px;top:389px;font-size:9px;line-height:10px;color:#000;font-weight:bold;width:120px;text-align:center;">0.0.0.0/0</div>
<div class="t" style="left:594.50px;top:389px;font-size:9px;line-height:10px;color:#000;font-weight:bold;width:160px;text-align:center;">nat-&lt;Gateway by AZ&gt;</div>
<div class="b" style="left:570px;top:677px;width:164px;height:64px;background:#fff"></div>
<div class="b" style="left:570px;top:677px;width:164px;height:23px;border:1px solid #2a2a2a;border-bottom:1px solid #999;"></div>
<div class="b" style="left:570px;top:699px;width:164px;height:15px;border:1px solid #a8a8a8;"></div>
<div class="b" style="left:570px;top:713px;width:164px;height:14px;border:1px solid #a8a8a8;"></div>
<div class="b" style="left:570px;top:726px;width:164px;height:15px;border:1px solid #a8a8a8;"></div>
<div class="b" style="left:570px;top:740px;width:164px;height:1px;background:#555;"></div>
<div class="b" style="left:570px;top:741px;width:164px;height:1px;background:#b4b4b4;"></div>
<div class="b" style="left:612px;top:699px;width:1px;height:41px;background:#a8a8a8;"></div>
<div class="t" style="left:541.50px;top:685px;font-size:10.8px;line-height:12px;color:#8c8c8c;font-style:italic;width:220px;text-align:center;">Health Check Route Table x 1</div>
<div class="t" style="left:531.00px;top:702px;font-size:9px;line-height:10px;color:#000;font-weight:bold;width:120px;text-align:center;">Dest</div>
<div class="t" style="left:592.50px;top:702px;font-size:9px;line-height:10px;color:#000;font-weight:bold;width:160px;text-align:center;">Target</div>
<div class="t" style="left:531.00px;top:715px;font-size:9px;line-height:10px;color:#000;font-weight:bold;width:120px;text-align:center;">x.x.x.x/x</div>
<div class="t" style="left:592.50px;top:715px;font-size:9px;line-height:10px;color:#000;font-weight:bold;width:160px;text-align:center;">local</div>
<div class="t" style="left:531.00px;top:729px;font-size:9px;line-height:10px;color:#000;font-weight:bold;width:120px;text-align:center;">0.0.0.0/0</div>
<div class="t" style="left:592.50px;top:729px;font-size:9px;line-height:10px;color:#000;font-weight:bold;width:160px;text-align:center;">eni-&lt;Trusted ENI by AZ&gt;</div>
<svg class="b" style="left:822.2px;top:94px;" width="32.6" height="32.6" viewBox="0 0 32.6 32.6"><rect x="0.65" y="0.65" width="31.30" height="31.30" fill="#fff" stroke="#7B4CD6" stroke-width="1.3"/><g fill="none" stroke="#7B4CD6" stroke-width="1"><circle cx="16.3" cy="16.3" r="12.3"/><path d="M16.3,8 v16.6 M5.9,16.3 h7.6 M26.7,16.3 h-7.6"/><path d="M14.1,9.3 l2.2,-2.3 l2.2,2.3 M14.1,23.3 l2.2,2.3 l2.2,-2.3 M12.8,14 l2.1,2.3 l-2.1,2.3 M19.8,14 l-2.1,2.3 l2.1,2.3"/></g><g fill="#7B4CD6"><path d="M16.3,6.6 l1.3,1.9 h-2.6 z M16.3,26 l1.3,-1.9 h-2.6 z M15.2,16.3 l-1.9,-1.3 v2.6 z M17.4,16.3 l1.9,-1.3 v2.6 z"/></g></svg>
<div class="t" style="left:818.50px;top:133px;font-size:10.8px;line-height:12px;color:#232F3E;width:40px;text-align:center;">TGW</div>
<div class="b" style="left:769px;top:169px;width:164px;height:65px;background:#fff"></div>
<div class="b" style="left:769px;top:169px;width:164px;height:24px;border:1px solid #2a2a2a;border-bottom:1px solid #999;"></div>
<div class="b" style="left:769px;top:192px;width:164px;height:14px;border:1px solid #a8a8a8;"></div>
<div class="b" style="left:769px;top:205px;width:164px;height:15px;border:1px solid #a8a8a8;"></div>
<div class="b" style="left:769px;top:219px;width:164px;height:15px;border:1px solid #a8a8a8;"></div>
<div class="b" style="left:769px;top:233px;width:164px;height:1px;background:#555;"></div>
<div class="b" style="left:769px;top:234px;width:164px;height:1px;background:#b4b4b4;"></div>
<div class="b" style="left:821px;top:192px;width:1px;height:41px;background:#a8a8a8;"></div>
<div class="t" style="left:740.50px;top:175px;font-size:10.8px;line-height:12px;color:#8c8c8c;font-style:italic;width:220px;text-align:center;">TGW App Route</div>
<div class="t" style="left:740.50px;top:188px;font-size:10.8px;line-height:12px;color:#8c8c8c;font-style:italic;width:220px;text-align:center;">Table</div>
<div class="t" style="left:735.00px;top:194px;font-size:9px;line-height:10px;color:#000;font-weight:bold;width:120px;text-align:center;">Dest</div>
<div class="t" style="left:796.50px;top:194px;font-size:9px;line-height:10px;color:#000;font-weight:bold;width:160px;text-align:center;">Target</div>
<div class="t" style="left:735.00px;top:208px;font-size:9px;line-height:10px;color:#000;font-weight:bold;width:120px;text-align:center;">a.a.a.a/a</div>
<div class="t" style="left:796.50px;top:208px;font-size:9px;line-height:10px;color:#000;font-weight:bold;width:160px;text-align:center;">a.a.a.a/a</div>
<div class="t" style="left:735.00px;top:222px;font-size:9px;line-height:10px;color:#000;font-weight:bold;width:120px;text-align:center;">0.0.0.0/0</div>
<div class="t" style="left:796.50px;top:222px;font-size:9px;line-height:10px;color:#000;font-weight:bold;width:160px;text-align:center;">vpc-attach-egress</div>
<div class="b" style="left:769px;top:248px;width:164px;height:65px;background:#fff"></div>
<div class="b" style="left:769px;top:248px;width:164px;height:23px;border:1px solid #2a2a2a;border-bottom:1px solid #999;"></div>
<div class="b" style="left:769px;top:270px;width:164px;height:15px;border:1px solid #a8a8a8;"></div>
<div class="b" style="left:769px;top:284px;width:164px;height:14px;border:1px solid #a8a8a8;"></div>
<div class="b" style="left:769px;top:297px;width:164px;height:16px;border:1px solid #a8a8a8;"></div>
<div class="b" style="left:769px;top:312px;width:164px;height:1px;background:#555;"></div>
<div class="b" style="left:769px;top:313px;width:164px;height:1px;background:#b4b4b4;"></div>
<div class="b" style="left:827px;top:270px;width:1px;height:42px;background:#a8a8a8;"></div>
<div class="t" style="left:740.50px;top:255px;font-size:10.8px;line-height:12px;color:#8c8c8c;font-style:italic;width:220px;text-align:center;">TGW Egress Route</div>
<div class="t" style="left:740.50px;top:267px;font-size:10.8px;line-height:12px;color:#8c8c8c;font-style:italic;width:220px;text-align:center;">Table</div>
<div class="t" style="left:738.00px;top:273px;font-size:9px;line-height:10px;color:#000;font-weight:bold;width:120px;text-align:center;">Dest</div>
<div class="t" style="left:799.50px;top:273px;font-size:9px;line-height:10px;color:#000;font-weight:bold;width:160px;text-align:center;">Target</div>
<div class="t" style="left:738.00px;top:286px;font-size:9px;line-height:10px;color:#000;font-weight:bold;width:120px;text-align:center;">x.x.x.x/x</div>
<div class="t" style="left:799.50px;top:286px;font-size:9px;line-height:10px;color:#000;font-weight:bold;width:160px;text-align:center;">local</div>
<div class="t" style="left:738.00px;top:300px;font-size:9px;line-height:10px;color:#000;font-weight:bold;width:120px;text-align:center;">a.a.a.a/a</div>
<div class="t" style="left:799.50px;top:300px;font-size:9px;line-height:10px;color:#000;font-weight:bold;width:160px;text-align:center;">vpc-attach-app</div>
<svg class="b" style="left:733px;top:228px;" width="38" height="28" viewBox="0 0 38 28"><path d="M36.8,6.4 H7" stroke="#0000FF" stroke-width="1.4"/><path d="M1.8,6.4 L8.6,3 L7.4,6.4 L8.6,9.8 z" fill="#0000FF" stroke="#0000FF" stroke-width="0.6" stroke-linejoin="round"/><path d="M0.3,22.2 H30" stroke="#0000FF" stroke-width="1.4"/><path d="M35.7,22.2 L28.9,18.8 L30.1,22.2 L28.9,25.6 z" fill="#0000FF" stroke="#0000FF" stroke-width="0.6" stroke-linejoin="round"/></svg>
<div class="t" style="left:771.40px;top:354px;font-size:10.8px;line-height:12px;color:#000;font-weight:bold;">Other Firewall Resources:</div>
<svg class="b" style="left:792.4px;top:376.4px;" width="36.8" height="36.8" viewBox="0 0 36.8 36.8"><rect x="0.6" y="0.6" width="35.60" height="35.60" fill="#fff" stroke="#CC2264" stroke-width="1.2"/><g fill="none" stroke="#CC2264" stroke-width="1"><path d="M5.1,8.9 L8.6,5 H20.6 L23.8,8.9 Z"/><path d="M5.1,10.6 H23.8" opacity="0.45"/><path d="M18.1,28.9 H5.4 V12.1 M23.5,12.1 V16.5"/><rect x="10.3" y="14.6" width="9.1" height="10.5" rx="1"/><path d="M12.8,17.8 h3.9 M12.8,19.9 h3.9 M12.8,22.1 h3.9"/><rect x="21" y="23.2" width="10.8" height="8.9" rx="0.8"/><path d="M23.3,23.2 v-2 a3.3,3.3 0 0 1 6.6,0 v2"/></g><circle cx="26.3" cy="26.8" r="1.1" fill="#CC2264"/><path d="M26.3,27.2 v2.3" stroke="#CC2264" stroke-width="1"/></svg>
<div class="t" style="left:765.30px;top:421px;font-size:9px;line-height:10px;color:#111;font-style:italic;width:90px;text-align:center;">PA SSM Params</div>
<svg class="b" style="left:793.8px;top:441px;" width="34" height="34" viewBox="0 0 34 34"><defs><linearGradient id="s3a" x1="0" y1="1" x2="0" y2="0"><stop offset="0" stop-color="#2B7A1B"/><stop offset="1" stop-color="#5FA437"/></linearGradient></defs><rect width="34" height="34" fill="url(#s3a)"/><g fill="none" stroke="#fff" stroke-width="0.95" opacity="0.95"><ellipse cx="16.3" cy="9.4" rx="9.9" ry="3.1"/><path d="M6.4,9.4 L9.6,26 A6.7,1.9 0 0 0 23.1,26 L26.2,9.4"/><path d="M16.3,15.2 L26.4,18.6"/></g><circle cx="16.3" cy="15.2" r="1" fill="#fff"/><ellipse cx="26.6" cy="18.7" rx="1.2" ry="0.9" fill="#fff"/></svg>
<div class="t" style="left:765.50px;top:478px;font-size:9px;line-height:10px;color:#111;font-style:italic;width:90px;text-align:center;">PA Bootstrap</div>
<svg class="b" style="left:855.2px;top:440.9px;" width="37.8" height="37.8" viewBox="0 0 37.8 37.8"><defs><linearGradient id="apig" x1="0" y1="1" x2="0" y2="0"><stop offset="0" stop-color="#5530B8"/><stop offset="1" stop-color="#935CF0"/></linearGradient></defs><rect width="37.8" height="37.8" fill="url(#apig)"/><g fill="none" stroke="#fff" stroke-width="0.95" opacity="0.95"><path d="M7,10.4 L13.4,7.6 V30.5 L7,28.4 Z M9,11.6 v15.8"/><path d="M31.2,10.4 L24.8,7.6 V30.5 L31.2,28.4 Z M29.2,11.6 v15.8"/><path d="M13.4,13.4 H24.8 M13.4,24.7 H24.8" stroke-dasharray="1.3 1.5"/><path d="M16.6,17.2 l-1.8,1.8 l1.8,1.8 M20.6,17.2 l1.8,1.8 l-1.8,1.8 M19.4,16.6 l-1.6,4.8"/></g></svg>
<div class="t" style="left:837.80px;top:483px;font-size:9px;line-height:10px;color:#111;width:70px;text-align:center;">Customer</div>
<div class="t" style="left:837.80px;top:493px;font-size:9px;line-height:10px;color:#111;width:70px;text-align:center;">Allowlist</div>
<div class="t" style="left:837.80px;top:503px;font-size:9px;line-height:10px;color:#111;width:70px;text-align:center;">API G</div>
<svg class="b" style="left:791.8px;top:520px;" width="34" height="34" viewBox="0 0 34 34"><defs><linearGradient id="s3b" x1="0" y1="1" x2="0" y2="0"><stop offset="0" stop-color="#2B7A1B"/><stop offset="1" stop-color="#5FA437"/></linearGradient></defs><rect width="34" height="34" fill="url(#s3b)"/><g fill="none" stroke="#fff" stroke-width="0.95" opacity="0.95"><ellipse cx="16.3" cy="9.4" rx="9.9" ry="3.1"/><path d="M6.4,9.4 L9.6,26 A6.7,1.9 0 0 0 23.1,26 L26.2,9.4"/><path d="M16.3,15.2 L26.4,18.6"/></g><circle cx="16.3" cy="15.2" r="1" fill="#fff"/><ellipse cx="26.6" cy="18.7" rx="1.2" ry="0.9" fill="#fff"/></svg>
<div class="t" style="left:764.70px;top:562px;font-size:9px;line-height:10px;color:#111;font-style:italic;width:90px;text-align:center;">PA Config</div>
<svg class="b" style="left:858.8px;top:520px;" width="34" height="34" viewBox="0 0 34 34"><defs><linearGradient id="s3c" x1="0" y1="1" x2="0" y2="0"><stop offset="0" stop-color="#2B7A1B"/><stop offset="1" stop-color="#5FA437"/></linearGradient></defs><rect width="34" height="34" fill="url(#s3c)"/><g fill="none" stroke="#fff" stroke-width="0.95" opacity="0.95"><ellipse cx="16.3" cy="9.4" rx="9.9" ry="3.1"/><path d="M6.4,9.4 L9.6,26 A6.7,1.9 0 0 0 23.1,26 L26.2,9.4"/><path d="M16.3,15.2 L26.4,18.6"/></g><circle cx="16.3" cy="15.2" r="1" fill="#fff"/><ellipse cx="26.6" cy="18.7" rx="1.2" ry="0.9" fill="#fff"/></svg>
<div class="t" style="left:832.40px;top:562px;font-size:9px;line-height:10px;color:#111;font-style:italic;width:90px;text-align:center;">PA Config Audit</div>
<svg class="b" style="left:788.7px;top:590.9px;" width="43.3" height="38.9" viewBox="0 0 43.3 38.9"><defs><linearGradient id="sfa" x1="0" y1="1" x2="0" y2="0"><stop offset="0" stop-color="#C4125A"/><stop offset="1" stop-color="#F3477F"/></linearGradient></defs><rect width="43.3" height="38.9" fill="url(#sfa)"/><g fill="none" stroke="#fff" stroke-width="0.95" opacity="0.95"><circle cx="21.6" cy="10.6" r="2"/><path d="M21.6,12.6 V15.1 M21.6,28.8 V30.9"/><circle cx="21.6" cy="32.9" r="2"/><path d="M13.4,17.5 V15.1 H30.3 V20.2 M30.3,24.4 V28.8 H13.4 V26.4 M13.4,20.9 V23"/><rect x="8" y="17.5" width="10.7" height="3.4" rx="1.2"/><rect x="8" y="23" width="10.7" height="3.4" rx="1.2"/><rect x="23.5" y="20.2" width="11.6" height="4.2" rx="1.2"/></g></svg>
<div class="t" style="left:764.70px;top:631px;font-size:9px;line-height:10px;color:#111;width:90px;text-align:center;">Launch SF</div>
<svg class="b" style="left:852.5px;top:590.2px;" width="43.3" height="38.9" viewBox="0 0 43.3 38.9"><defs><linearGradient id="sfb" x1="0" y1="1" x2="0" y2="0"><stop offset="0" stop-color="#C4125A"/><stop offset="1" stop-color="#F3477F"/></linearGradient></defs><rect width="43.3" height="38.9" fill="url(#sfb)"/><g fill="none" stroke="#fff" stroke-width="0.95" opacity="0.95"><circle cx="21.6" cy="10.6" r="2"/><path d="M21.6,12.6 V15.1 M21.6,28.8 V30.9"/><circle cx="21.6" cy="32.9" r="2"/><path d="M13.4,17.5 V15.1 H30.3 V20.2 M30.3,24.4 V28.8 H13.4 V26.4 M13.4,20.9 V23"/><rect x="8" y="17.5" width="10.7" height="3.4" rx="1.2"/><rect x="8" y="23" width="10.7" height="3.4" rx="1.2"/><rect x="23.5" y="20.2" width="11.6" height="4.2" rx="1.2"/></g></svg>
<div class="t" style="left:828.00px;top:630px;font-size:9px;line-height:10px;color:#111;width:90px;text-align:center;">Health Check SF</div>
<svg class="b" style="left:789.6px;top:656.6px;" width="41.5" height="41.5" viewBox="0 0 41.5 41.5"><rect x="0.7" y="0.7" width="40.10" height="40.10" fill="#fff" stroke="#E99A70" stroke-width="1.4"/><g transform="scale(1.0000)" fill="none" stroke="#DD7038" stroke-width="1.35" stroke-linejoin="round"><circle cx="20.7" cy="20.8" r="15.7"/><path d="M13.9,9.3 H20.8 L28.8,25.6 H30.4 V29.7 H25.4 L19.9,18.6 L15.9,29.7 H10.9 L17.4,16.2 L15.7,12.9 H13.9 Z"/></g></svg>
<div class="t" style="left:755.20px;top:699px;font-size:9px;line-height:10px;color:#111;font-style:italic;width:110px;text-align:center;">Password Rotation</div>
<div class="t" style="left:765.20px;top:710px;font-size:9px;line-height:10px;color:#111;font-style:italic;width:90px;text-align:center;">Lambda</div>
<svg class="b" style="left:852.5px;top:656.1px;" width="43.2" height="41.6" viewBox="0 0 43.2 41.6"><defs><linearGradient id="sec" x1="0" y1="1" x2="0" y2="0"><stop offset="0" stop-color="#C8161E"/><stop offset="1" stop-color="#F24A50"/></linearGradient></defs><rect width="43.2" height="41.6" fill="url(#sec)"/><g fill="none" stroke="#fff" stroke-width="1" opacity="0.95"><path d="M8.1,8.1 L16.3,16.7 M25.6,25.6 L35.2,35.2 M33.2,10.1 L29.5,13.7 M9.7,33.6 L14,29.6"/><path d="M14.24,10.37 A13.5,13.5 0 0 1 28.96,10.37 M32.93,14.34 A13.5,13.5 0 0 1 32.93,29.06 M28.96,33.03 A13.5,13.5 0 0 1 14.24,33.03 M10.27,29.06 A13.5,13.5 0 0 1 10.27,14.34"/><rect x="16.7" y="20" width="9.2" height="8.3" rx="0.8"/><path d="M18.3,20 v-2.8 a3,3 0 0 1 6,0 v2.8"/></g><g fill="#fff"><circle cx="21.6" cy="8.2" r="1.2"/><circle cx="21.6" cy="35.2" r="1.2"/><circle cx="8.1" cy="21.7" r="1.2"/><circle cx="35.1" cy="21.7" r="1.2"/><circle cx="21.3" cy="23.6" r="1"/></g></svg>
<div class="t" style="left:828.90px;top:699px;font-size:9px;line-height:10px;color:#111;font-style:italic;width:90px;text-align:center;">Admin Pass</div>
<div class="t" style="left:818.70px;top:710px;font-size:9px;line-height:10px;color:#111;font-style:italic;width:110px;text-align:center;">Secrets Manager</div>
</div>
</body></html>
